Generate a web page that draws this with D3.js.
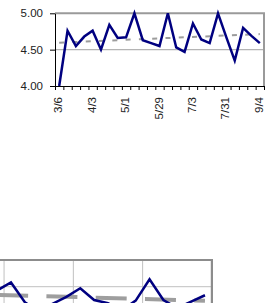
<!DOCTYPE html>
<html>
<head>
<meta charset="utf-8">
<script src="https://cdn.jsdelivr.net/npm/d3@7"></script>
<style>
  body { margin: 0; background: #fff; }
  svg { display: block; font-family: "Liberation Sans", Arial, sans-serif; }
</style>
</head>
<body>
<div class="chart"></div>
<script>
// top chart: weekly values
const categories = ["3/6","3/13","3/20","3/27","4/3","4/10","4/17","4/24","5/1",
  "5/8","5/15","5/22","5/29","6/5","6/12","6/19","7/3","7/10","7/17","7/24",
  "7/31","8/7","8/14","8/21","9/4"];
const values = [4.00, 4.76, 4.55, 4.68, 4.76, 4.50, 4.84, 4.66, 4.67, 5.00,
  4.63, 4.59, 4.55, 5.00, 4.53, 4.47, 4.86, 4.64, 4.59, 5.00,
  4.67, 4.35, 4.80, 4.69, 4.59];
const yTicks = [4.00, 4.50, 5.00];

// second chart, only its top edge is in view
const bottomCats = d3.range(16).map(i => "c" + i);
const bottomValues = [4.43, 4.58, 4.21, 4.03, 4.18, 4.31, 4.47, 4.25, 4.19, 4.06,
  4.24, 4.64, 4.25, 4.10, 4.22, 4.34];
const bottomTrend = [4.347, 4.238];

const W = 271, H = 303;

const svg = d3.select('.chart')
    .append('svg')
    .attr('width', W)
    .attr('height', H)

// ---------- top chart ----------
const plot = {left: 55, right: 264, top: 13.3, bottom: 86};

let x = d3.scaleBand()
    .domain(categories)
    .range([plot.left, plot.right])
    .padding(0)

let xEdge = d3.scaleLinear()
    .domain([0, categories.length])
    .range([plot.left, plot.right])

let y = d3.scaleLinear()
    .domain([4, 5])
    .range([plot.bottom, plot.top])

const topG = svg.append('g')

// gridline 4.50
topG.append('line')
    .attr('x1', plot.left).attr('x2', plot.right)
    .attr('y1', y(4.5)).attr('y2', y(4.5))
    .attr('stroke', '#b4b4b4')
    .attr('stroke-width', 1.2)

// frame: top and right
topG.append('path')
    .attr('d', `M${plot.left},${y(5)}H${plot.right}V${plot.bottom}`)
    .attr('fill', 'none')
    .attr('stroke', '#9a9a9a')
    .attr('stroke-width', 2)

// trend line (least squares)
const n = values.length
const mx = d3.mean(d3.range(n)), my = d3.mean(values)
const slope = d3.sum(values, (v, i) => (i - mx) * (v - my)) / d3.sum(d3.range(n), i => (i - mx) ** 2)
const trend = [0, n - 1].map(i => ({i, v: my + slope * (i - mx)}))

topG.append('path')
    .datum(trend)
    .attr('fill', 'none')
    .attr('stroke', '#9c9c9c')
    .attr('stroke-width', 2)
    .attr('stroke-dasharray', '5,8.3')
    .attr('d', d3.line()
        .x(d => x(categories[d.i]) + x.bandwidth() / 2)
        .y(d => y(d.v)))

// data line
topG.append('path')
    .datum(values)
    .attr('fill', 'none')
    .attr('stroke', '#000080')
    .attr('stroke-width', 2.5)
    .attr('stroke-linejoin', 'miter')
    .attr('d', d3.line()
        .x((d, i) => x(categories[i]) + x.bandwidth() / 2)
        .y(d => y(d)))

// y axis
topG.append('g')
    .attr('transform', `translate(${plot.left},0)`)
    .call(d3.axisLeft(y).tickValues(yTicks).tickFormat(d3.format('.2f')).tickSize(5).tickSizeOuter(0).tickPadding(7))
    .call(g => g.selectAll('text').attr('font-size', 11.5).attr('fill', '#222'))
    .call(g => g.attr('font-family', null))
    .call(g => g.selectAll('line,path').attr('stroke', '#000'))

// x axis: ticks on category edges
topG.append('g')
    .attr('transform', `translate(0,${plot.bottom})`)
    .call(d3.axisBottom(xEdge).tickValues(d3.range(categories.length + 1)).tickFormat('').tickSize(4).tickSizeOuter(0))
    .call(g => g.selectAll('line,path').attr('stroke', '#000'))

// x labels every 4th category, rotated
topG.append('g')
    .selectAll('text')
    .data(categories.filter((d, i) => i % 4 === 0))
    .join('text')
    .attr('transform', d => `translate(${x(d) + x.bandwidth() / 2 - 1},${plot.bottom + 11}) rotate(-90)`)
    .attr('text-anchor', 'end')
    .attr('dy', '0.35em')
    .attr('font-size', 11.5)
    .attr('fill', '#222')
    .text(d => d)

// ---------- bottom chart (cut off by the window) ----------
const plot2 = {left: -9.8, right: 211.9, top: 260};

let x2 = d3.scaleBand()
    .domain(bottomCats)
    .range([plot2.left, plot2.right])
    .padding(0)

let x2Edge = d3.scaleLinear()
    .domain([0, bottomCats.length])
    .range([plot2.left, plot2.right])

let y2 = d3.scaleLinear()
    .domain([4, 5])
    .range([plot2.top + 53.4, plot2.top])

const botG = svg.append('g')

// vertical gridlines every 5 categories counted from the right edge
botG.selectAll('.vgrid')
    .data(d3.range(1, bottomCats.length).filter(k => (bottomCats.length - k) % 5 === 0))
    .join('line')
    .attr('class', 'vgrid')
    .attr('x1', d => x2Edge(d)).attr('x2', d => x2Edge(d))
    .attr('y1', plot2.top).attr('y2', H + 20)
    .attr('stroke', '#c0c0c0')
    .attr('stroke-width', 1)

botG.selectAll('.hgrid')
    .data([4.5])
    .join('line')
    .attr('class', 'hgrid')
    .attr('x1', plot2.left).attr('x2', plot2.right)
    .attr('y1', d => y2(d)).attr('y2', d => y2(d))
    .attr('stroke', '#c0c0c0')
    .attr('stroke-width', 1)

botG.append('path')
    .attr('d', `M${plot2.left},${plot2.top}H${plot2.right}V${H + 20}`)
    .attr('fill', 'none')
    .attr('stroke', '#8c8c8c')
    .attr('stroke-width', 2.2)

botG.append('path')
    .datum(bottomTrend)
    .attr('fill', 'none')
    .attr('stroke', '#9e9e9e')
    .attr('stroke-width', 4)
    .attr('stroke-dasharray', '31,18.3')
    .attr('d', d3.line()
        .x((d, i) => x2(bottomCats[i * (bottomCats.length - 1)]) + x2.bandwidth() / 2)
        .y(d => y2(d)))

botG.append('path')
    .datum(bottomValues)
    .attr('fill', 'none')
    .attr('stroke', '#000080')
    .attr('stroke-width', 2.5)
    .attr('d', d3.line()
        .x((d, i) => x2(bottomCats[i]) + x2.bandwidth() / 2)
        .y(d => y2(d)))
</script>
</body>
</html>
